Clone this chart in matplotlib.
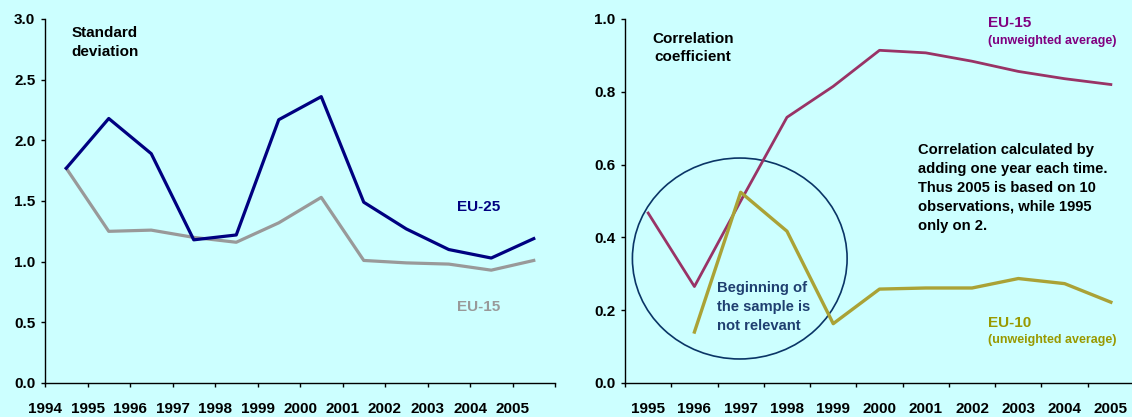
import matplotlib.pyplot as plt
from matplotlib.patches import Ellipse
import numpy as np

plt.rcParams['font.family'] = ['Liberation Sans', 'DejaVu Sans']
plt.rcParams['font.weight'] = 'bold'

BG = '#ccffff'

# left panel: standard deviation
sd_years = ['1994', '1995', '1996', '1997', '1998', '1999',
            '2000', '2001', '2002', '2003', '2004', '2005']
sd_eu25 = [1.77, 2.18, 1.89, 1.18, 1.22, 2.17, 2.36, 1.49, 1.27, 1.10, 1.03, 1.19]
sd_eu15 = [1.77, 1.25, 1.26, 1.20, 1.16, 1.32, 1.53, 1.01, 0.99, 0.98, 0.93, 1.01]

# right panel: correlation coefficient
corr_years = ['1995', '1996', '1997', '1998', '1999', '2000',
              '2001', '2002', '2003', '2004', '2005']
corr_eu15 = [0.467, 0.265, 0.50, 0.73, 0.815, 0.914, 0.907, 0.884, 0.856, 0.836, 0.820]
corr_eu10 = [np.nan, 0.14, 0.524, 0.417, 0.163, 0.258, 0.261, 0.261, 0.287, 0.273, 0.222]

fig = plt.figure(figsize=(11.32, 4.17), dpi=100, facecolor=BG)


def style_axes(ax):
    ax.set_facecolor(BG)
    for s in ['top', 'right']:
        ax.spines[s].set_visible(False)
    for s in ['left', 'bottom']:
        ax.spines[s].set_color('black')
        ax.spines[s].set_linewidth(1.0)
    ax.tick_params(axis='both', direction='out', length=3, width=1,
                   labelsize=11, colors='black')
    ax.tick_params(axis='y', pad=4)


# ---- left ----
ax1 = fig.add_axes([45 / 1132, 34 / 417, 510 / 1132, 364 / 417])
style_axes(ax1)
x1 = np.arange(len(sd_years)) + 0.5
ax1.plot(x1, sd_eu15, color='#999999', lw=2.3)
ax1.plot(x1, sd_eu25, color='#000080', lw=2.3)
ax1.set_xlim(0, 12)
ax1.set_ylim(0, 3.0)
ax1.set_yticks(np.arange(0, 3.01, 0.5))
ax1.set_yticklabels(['%.1f' % v for v in np.arange(0, 3.01, 0.5)])
ax1.set_xticks(np.arange(0, 13))
ax1.set_xticklabels(sd_years + [''])
ax1.tick_params(axis='x', pad=10.5)
ax1.text(1.42, 2.94, 'Standard\ndeviation', fontsize=11, ha='center', va='top',
         linespacing=1.4, multialignment='left')
ax1.text(9.7, 1.45, 'EU-25', color='#000080', fontsize=11, ha='left', va='center')
ax1.text(9.7, 0.63, 'EU-15', color='#999999', fontsize=11, ha='left', va='center')

# ---- right ----
ax2 = fig.add_axes([625 / 1132, 34 / 417, 509 / 1132, 364 / 417])
style_axes(ax2)
x2 = np.arange(len(corr_years)) + 0.5
ax2.plot(x2, corr_eu15, color='#993366', lw=2.0)
ax2.plot(x2, corr_eu10, color='#aaa236', lw=2.4)
ax2.set_xlim(0, 11)
ax2.set_ylim(0, 1.0)
ax2.set_yticks(np.arange(0, 1.01, 0.2))
ax2.set_yticklabels(['%.1f' % v for v in np.arange(0, 1.01, 0.2)])
ax2.set_xticks(np.arange(0, 11))
ax2.set_xticklabels([])
ax2.set_xticks(x2, minor=True)
ax2.set_xticklabels(corr_years, minor=True)
ax2.tick_params(axis='x', which='minor', length=0, pad=13.5, labelsize=11)

ell = Ellipse((2.48, 0.342), 4.64, 0.552, fill=False, edgecolor='#0a3566', lw=1.2)
ax2.add_patch(ell)
ax2.text(1.99, 0.21, 'Beginning of\nthe sample is\nnot relevant', color='#1f3f70',
         fontsize=10.6, ha='left', va='center', linespacing=1.45)
ax2.text(1.47, 0.965, 'Correlation\ncoefficient', fontsize=11, ha='center', va='top',
         linespacing=1.4, multialignment='center')
ax2.text(7.84, 0.99, 'EU-15', color='#800080', fontsize=11, ha='left', va='center')
ax2.text(7.84, 0.94, '(unweighted average)', color='#800080', fontsize=9, ha='left',
         va='center')
ax2.text(7.84, 0.166, 'EU-10', color='#999900', fontsize=11, ha='left', va='center')
ax2.text(7.84, 0.119, '(unweighted average)', color='#999900', fontsize=9, ha='left',
         va='center')
ax2.text(6.33, 0.66, 'Correlation calculated by\nadding one year each time.\n'
         'Thus 2005 is based on 10\nobservations, while 1995\nonly on 2.',
         fontsize=10.6, ha='left', va='top', linespacing=1.45)

fig.savefig('out.png', dpi=100, facecolor=BG)
